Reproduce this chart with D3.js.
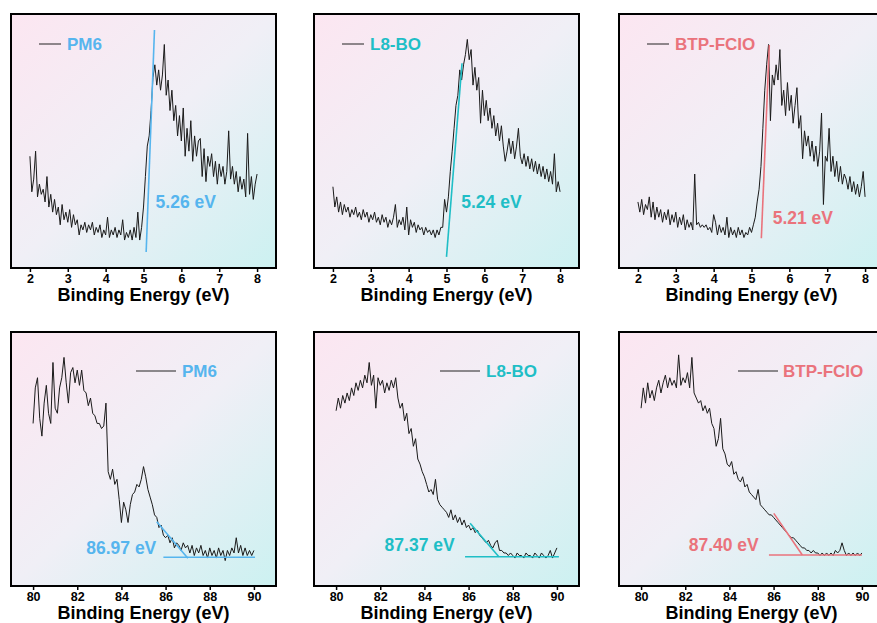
<!DOCTYPE html>
<html><head><meta charset="utf-8">
<script src="https://cdn.jsdelivr.net/npm/d3@7"></script>
<style>html,body{margin:0;padding:0;background:#fff;} svg{display:block;}</style>
</head><body>
<svg id="chart" width="877" height="623"></svg>
<script>
// ---------- DATA ----------
const vbStart = 2, vbStep = 0.05;      // valence-band (secondary cutoff) energy grid, eV
const coreStart = 80, coreStep = 0.1;  // Au 4f region energy grid, eV
const materials = ["PM6", "L8-BO", "BTP-FCIO"];
const materialColors = ["#56b5ee", "#1fbec6", "#ea737c"];
const vbTicks = [2, 3, 4, 5, 6, 7, 8];
const coreTicks = [80, 82, 84, 86, 88, 90];
const onsetLabels = ["5.26 eV", "5.24 eV", "5.21 eV"];
const cutoffLabels = ["86.97 eV", "87.37 eV", "87.40 eV"];

const pm6VB = [44,30,35,46,28,33,29,31,26,36,24,29,22,27,21,24,17,25,19,22,
  18,23,16,21,17,19,13,17,15,18,14,17,15,18,13,16,14,17,12,15,
  13,20,12,15,13,16,12,15,13,19,11,14,12,15,11,16,12,22,11,16,
  24,36,48,52,62,75,80,72,78,70,76,88,68,74,62,70,58,64,52,60,
  50,63,44,55,46,58,42,52,44,50,51,36,47,34,44,40,45,36,42,33,
  41,36,40,33,38,54,35,40,33,38,30,36,31,35,28,53,29,36,27,33,37];
const l8VB = [32,24,28,22,26,21,25,22,24,20,23,21,24,20,22,19,23,20,22,18,
  21,19,22,18,20,17,21,18,20,16,19,17,20,25,16,19,17,20,15,24,
  13,19,16,18,14,17,15,16,13,16,14,15,13,15,12,15,13,16,16,27,
  22,28,38,46,55,64,68,78,74,80,84,90,82,86,72,79,70,75,57,70,
  60,66,58,63,55,60,52,57,50,56,48,42,46,51,45,50,43,48,55,44,
  41,45,40,44,39,43,38,42,37,41,36,40,35,39,34,38,33,45,30,34,30];
const btpVB = [26,22,27,21,25,23,28,20,26,19,24,20,23,18,22,19,23,17,21,18,
  22,16,20,17,21,15,19,16,18,15,37,17,18,16,17,16,17,15,16,14,
  21,18,13,17,14,16,13,20,12,16,13,15,12,16,13,15,12,14,13,16,
  14,17,20,26,31,40,55,70,80,88,58,76,72,80,74,86,64,70,60,73,
  62,68,57,64,71,55,60,43,54,48,52,44,50,42,48,40,46,61,25,44,
  42,55,38,44,36,42,34,40,33,37,35,31,36,30,34,29,33,28,32,38,28];

const pm6Core = [64,78,82,66,59,72,79,68,64,88,70,68,78,82,90,80,72,84,86,80,
  85,79,85,77,76,71,74,68,67,64,64,62,63,72,45,42,46,40,42,34,
  25,33,30,25,32,36,37,40,39,42,47,43,38,35,32,28,27,23,24,20,
  19,20,17,19,15,17,16,14,17,15,16,13,16,12,15,13,16,12,14,11,
  15,12,14,11,15,12,14,10,14,12,15,13,19,13,16,12,15,12,14,12,14];
const l8Core = [69,74,70,75,72,76,73,78,75,80,77,81,78,83,80,88,79,83,70,82,
  79,81,76,80,77,81,78,82,74,70,72,65,68,60,62,55,58,50,48,45,
  43,40,37,38,36,42,34,32,31,30,29,27,30,26,28,25,27,24,26,23,
  24,22,23,21,22,20,19,18,17,18,16,15,17,18,14,14,13,13,12,13,
  12,11,13,12,12,11,13,12,12,11,13,12,11,13,12,11,12,14,11,13,15];
const btpCore = [70,78,72,80,74,77,73,78,81,76,80,83,78,82,79,81,78,91,79,82,
  80,84,78,90,76,74,72,73,69,71,68,70,64,62,55,58,66,54,52,48,
  47,49,44,45,42,41,43,39,40,37,36,35,34,38,32,31,30,29,28,28,
  27,26,25,24,23,22,21,20,19,19,18,17,16,15,15,14,14,13,14,13,
  13,12,13,12,13,12,13,12,14,13,14,17,14,12,13,12,13,12,13,12,13];

// onset fit lines (energy, intensity)
const vbFitX = [[5.07, 5.29], [5.00, 5.41], [5.26, 5.47]];
const vbFitY = [[6.3, 93.7], [4.4, 80.6], [11.7, 87.8]];
const coreSlopeX = [[85.60, 87.01], [86.07, 87.37], [86.01, 87.30]];
const coreSlopeY = [[25.3, 10.9], [24.7, 11.5], [28.6, 12.2]];
const coreBaseX = [[85.90, 90.05], [85.84, 90.09], [85.79, 90.00]];
const coreBaseY = [[11.3, 11.3], [11.5, 11.5], [12.2, 12.2]];

// ---------- LAYOUT ----------
const W = 265, H = 254;
const lefts = [11, 314, 619];
const tops = [14, 332];
const FONT = "'Liberation Sans', Arial, Helvetica, sans-serif";

const svg = d3.select("#chart");
const defs = svg.append("defs");
const grad = defs.append("linearGradient").attr("id", "bg")
  .attr("x1", 0).attr("y1", 0).attr("x2", 1).attr("y2", 1);
grad.append("stop").attr("offset", "0%").attr("stop-color", "#fce6f1");
grad.append("stop").attr("offset", "50%").attr("stop-color", "#f0eff6");
grad.append("stop").attr("offset", "100%").attr("stop-color", "#ccf1f1");

function series(start, step, vals) {
  return vals.map((v, i) => [+(start + i * step).toFixed(3), v]);
}

const vbSeries = [pm6VB, l8VB, btpVB].map(v => series(vbStart, vbStep, v));
const coreSeries = [pm6Core, l8Core, btpCore].map(v => series(coreStart, coreStep, v));

const panels = [];
for (let i = 0; i < 3; i++) {
  panels.push({row: 0, col: i, domain: [1.5, 8.5], ticks: vbTicks, data: vbSeries[i],
    fits: [[vbFitX[i], vbFitY[i]]], label: onsetLabels[i],
    labelPos: [[5.32, 26.1], [5.39, 26.1], [5.56, 19.6]][i], anchor: "start",
    legend: {x1: 28, x2: 50, tx: 56, y: 30, size: 17}});
}
for (let i = 0; i < 3; i++) {
  panels.push({row: 1, col: i, domain: [79, 91], ticks: coreTicks, data: coreSeries[i],
    fits: [[coreSlopeX[i], coreSlopeY[i]], [coreBaseX[i], coreBaseY[i]]], label: cutoffLabels[i],
    labelPos: [[85.58, 15.1], [85.37, 16.1], [85.33, 16.1]][i], anchor: "end",
    legend: {x1: [125, 126, 119][i], x2: [165, 166, 159][i], tx: [171, 172, 164][i], y: 39, size: 17}});
}

panels.forEach(p => {
  const color = materialColors[p.col];
  const g = svg.append("g").attr("transform", `translate(${lefts[p.col]},${tops[p.row]})`);
  const x = d3.scaleLinear().domain(p.domain).range([0, W]);
  const y = d3.scaleLinear().domain([0, 100]).range([H, 0]);

  g.append("rect").attr("width", W).attr("height", H).attr("fill", "url(#bg)");

  const line = d3.line().x(d => x(d[0])).y(d => y(d[1]));
  g.append("path").datum(p.data).attr("d", line)
    .attr("fill", "none").attr("stroke", "#1a1a1a").attr("stroke-width", 1)
    .attr("stroke-linejoin", "round");

  p.fits.forEach(f => {
    const pts = f[0].map((xv, k) => [xv, f[1][k]]);
    g.append("path").datum(pts).attr("d", line)
      .attr("fill", "none").attr("stroke", color).attr("stroke-width", 1.6);
  });

  g.append("text").attr("x", x(p.labelPos[0])).attr("y", y(p.labelPos[1]))
    .attr("text-anchor", p.anchor).attr("dominant-baseline", "central")
    .attr("font-family", FONT).attr("font-weight", "bold").attr("font-size", 17.5)
    .attr("fill", color).text(p.label);

  // legend
  g.append("line").attr("x1", p.legend.x1).attr("x2", p.legend.x2)
    .attr("y1", p.legend.y).attr("y2", p.legend.y)
    .attr("stroke", "#222").attr("stroke-width", 1);
  g.append("text").attr("x", p.legend.tx).attr("y", p.legend.y)
    .attr("dominant-baseline", "central")
    .attr("font-family", FONT).attr("font-weight", "bold").attr("font-size", p.legend.size)
    .attr("fill", color).text(materials[p.col]);

  // axis
  const ax = g.append("g").attr("transform", `translate(0,${H})`)
    .call(d3.axisBottom(x).tickValues(p.ticks).tickFormat(d3.format("d"))
      .tickSize(4).tickSizeOuter(0).tickPadding(2));
  ax.select(".domain").remove();
  ax.selectAll(".tick line").attr("stroke", "#000").attr("stroke-width", 1.5);
  ax.selectAll(".tick text").attr("font-family", FONT).attr("font-weight", "bold")
    .attr("font-size", 12.5).attr("fill", "#000");

  g.append("text").attr("x", W / 2).attr("y", H + 27)
    .attr("text-anchor", "middle").attr("dominant-baseline", "central")
    .attr("font-family", FONT).attr("font-weight", "bold").attr("font-size", 18)
    .attr("fill", "#000").text("Binding Energy (eV)");

  g.append("rect").attr("width", W).attr("height", H)
    .attr("fill", "none").attr("stroke", "#000").attr("stroke-width", 2);
});
</script>
</body></html>
